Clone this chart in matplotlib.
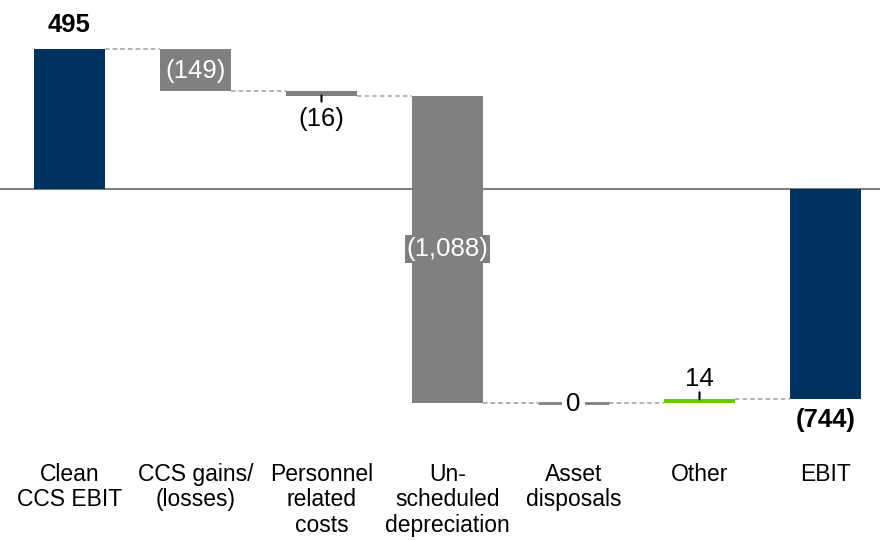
import matplotlib
matplotlib.use("Agg")
import matplotlib.pyplot as plt
import matplotlib.transforms as mtransforms

plt.rcParams['font.family'] = ['Liberation Sans', 'DejaVu Sans']

categories = ["Clean\nCCS EBIT", "CCS gains/\n(losses)", "Personnel\nrelated\ncosts",
              "Un-\nscheduled\ndepreciation", "Asset\ndisposals", "Other", "EBIT"]
values = [495, -149, -16, -1088, 0, 14, -744]
is_total = [True, False, False, False, False, False, True]
value_labels = ["495", "(149)", "(16)", "(1,088)", "0", "14", "(744)"]

NAVY = "#00325F"
GRAY = "#808080"
GREEN = "#66CC00"

fig = plt.figure(figsize=(8.8, 5.41), dpi=100)
ax = fig.add_axes([0, 0, 1, 1])
ax.set_xlim(-0.5516, 6.4325)
ax.set_ylim(-1245, 668)
ax.axis("off")

width = 0.563
ax.axhline(0, color=GRAY, lw=1.5, zorder=1)

# compute bar bottoms / tops for the waterfall
running = 0
bottoms, tops = [], []
for v, tot in zip(values, is_total):
    if tot:
        b, t = 0, v
        running = v
    else:
        b = running
        running += v
        t = running
    bottoms.append(b)
    tops.append(t)

for i, (v, tot) in enumerate(zip(values, is_total)):
    if tot:
        color = NAVY
    elif v > 0:
        color = GREEN
    else:
        color = GRAY
    if v == 0:
        ax.plot([i - width / 2, i + width / 2], [bottoms[i]] * 2, color=GRAY,
                lw=2, zorder=2, solid_capstyle="butt")
    else:
        ax.bar(i, tops[i] - bottoms[i], bottom=bottoms[i], width=width,
               color=color, zorder=2, linewidth=0)

# dashed connectors between neighbouring bars
for i in range(len(values) - 1):
    level = tops[i]
    ax.plot([i + width / 2, i + 1 - width / 2], [level, level], color="#A0A0A0",
            lw=1.1, ls=(0, (3, 2)), zorder=1)

fs = 18.5
# labels
ax.annotate(value_labels[0], (0, tops[0]), xytext=(0, 24), textcoords="offset pixels",
            ha="center", va="center", fontsize=fs, fontweight="bold", color="black")
ax.annotate(value_labels[1], (1, (bottoms[1] + tops[1]) / 2), xytext=(0, -1),
            textcoords="offset pixels", ha="center", va="center",
            fontsize=fs, color="white", zorder=4)
# (16): small tick then label below
ax.annotate("", (2, tops[2]), xytext=(0, -6), textcoords="offset pixels",
            arrowprops=dict(arrowstyle="-", color="black", lw=1.5, shrinkA=0, shrinkB=0))
ax.annotate(value_labels[2], (2, tops[2]), xytext=(0, -23), textcoords="offset pixels",
            ha="center", va="center", fontsize=fs, color="black")
ax.text(3, (bottoms[3] + tops[3]) / 2, value_labels[3], ha="center", va="center",
        fontsize=fs, color="white", zorder=4,
        bbox=dict(boxstyle="square,pad=0.08", fc=GRAY, ec="none"))
ax.annotate(value_labels[4], (4, bottoms[4]), xytext=(0, -1), textcoords="offset pixels",
            ha="center", va="center", fontsize=fs, color="black", zorder=4,
            bbox=dict(boxstyle="square,pad=0.15", fc="white", ec="none"))
ax.annotate("", (5, tops[5]), xytext=(0, 7), textcoords="offset pixels",
            arrowprops=dict(arrowstyle="-", color="black", lw=1.5, shrinkA=0, shrinkB=0))
ax.annotate(value_labels[5], (5, tops[5]), xytext=(0, 20), textcoords="offset pixels",
            ha="center", va="center", fontsize=fs, color="black")
ax.annotate(value_labels[6], (6, tops[6]), xytext=(0, -21), textcoords="offset pixels",
            ha="center", va="center", fontsize=fs, fontweight="bold", color="black")

# category labels
trans = mtransforms.blended_transform_factory(ax.transData, ax.transAxes)
for i, c in enumerate(categories):
    ax.text(i, 1 - 463 / 541, c, transform=trans, ha="center", va="top",
            fontsize=16.5, linespacing=1.13, color="black")

fig.savefig("out.png", dpi=100)
